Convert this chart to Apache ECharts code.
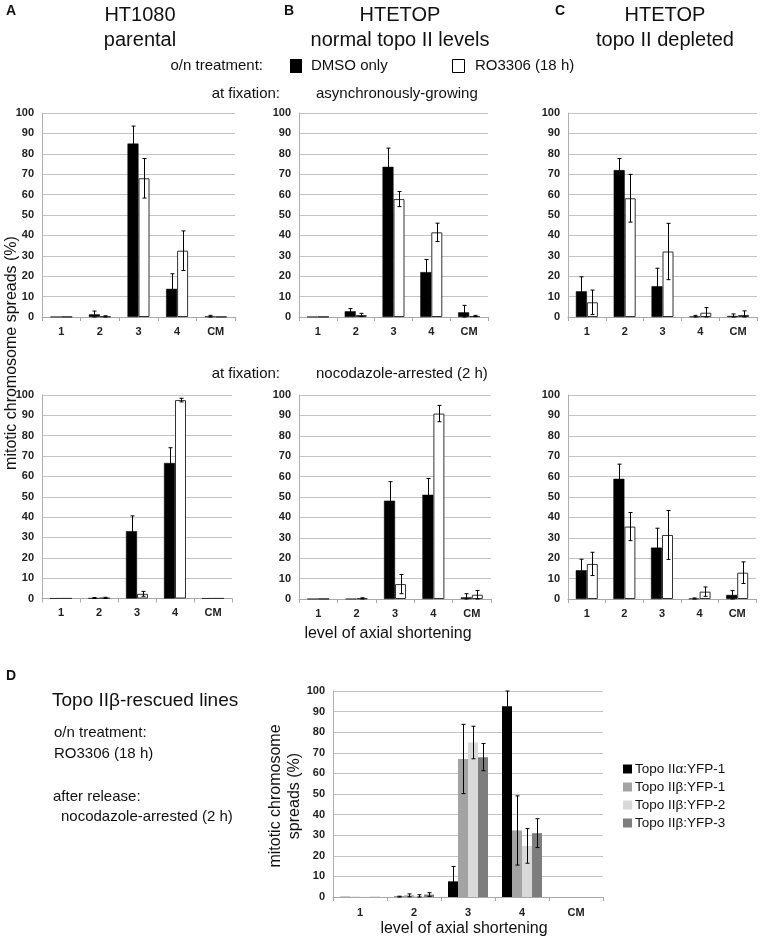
<!DOCTYPE html>
<html><head><meta charset="utf-8">
<script src="https://cdn.jsdelivr.net/npm/echarts@6/dist/echarts.min.js"></script>
<style>html,body{margin:0;padding:0;background:#fff}#c{width:763px;height:940px}</style>
</head><body><div id="c"></div>
<script>
const categories = ['1', '2', '3', '4', 'CM'];

// Panel A (HT1080 parental) - asynchronously-growing
const aTopDmso = [0.1, 1.3, 85.0, 13.8, 0.3];
const aTopDmsoErr = [0, 1.6, 8.6, 7.4, 0.5];
const aTopRo = [0.1, 0.3, 68.0, 32.5, 0.1];
const aTopRoErr = [0, 0.3, 9.7, 9.7, 0];
// Panel B (HTETOP normal) - asynchronously-growing
const bTopDmso = [0.1, 2.8, 73.6, 22.0, 2.3];
const bTopDmsoErr = [0, 1.3, 9.2, 6.2, 3.4];
const bTopRo = [0.1, 1.0, 57.8, 41.5, 0.5];
const bTopRoErr = [0, 0.8, 3.7, 4.5, 0.3];
// Panel C (HTETOP depleted) - asynchronously-growing
const cTopDmso = [12.6, 72.0, 15.1, 0.3, 0.5];
const cTopDmsoErr = [7.1, 5.7, 8.8, 0.5, 1.0];
const cTopRo = [7.2, 58.2, 32.1, 2.1, 1.0];
const cTopRoErr = [6.0, 11.7, 13.8, 2.5, 2.0];
// Nocodazole-arrested (2 h)
const aBotDmso = [0.05, 0.2, 33.1, 66.6, 0.05];
const aBotDmsoErr = [0, 0.3, 7.5, 7.5, 0];
const aBotRo = [0.05, 0.3, 2.3, 97.5, 0.05];
const aBotRoErr = [0, 0.3, 1.2, 0.9, 0];
const bBotDmso = [0.05, 0.05, 48.2, 51.1, 0.8];
const bBotDmsoErr = [0, 0, 9.3, 8.0, 1.8];
const bBotRo = [0.05, 0.3, 7.3, 90.9, 2.1];
const bBotRoErr = [0, 0.3, 4.7, 4.0, 2.1];
const cBotDmso = [14.1, 58.9, 25.2, 0.2, 2.0];
const cBotDmsoErr = [5.4, 7.2, 9.5, 0.3, 2.1];
const cBotRo = [17.2, 35.5, 31.4, 3.6, 12.9];
const cBotRoErr = [5.7, 6.9, 12.0, 2.3, 5.3];
// Panel D (Topo IIβ-rescued lines)
const dNames = ['Topo IIα:YFP-1', 'Topo IIβ:YFP-1', 'Topo IIβ:YFP-2', 'Topo IIβ:YFP-3'];
const dAlpha1 = [0.1, 0.2, 7.6, 92.6, 0];
const dAlpha1Err = [0, 0.2, 7.2, 7.4, 0];
const dBeta1 = [0.1, 0.8, 67.0, 32.3, 0];
const dBeta1Err = [0, 0.7, 16.8, 16.8, 0];
const dBeta2 = [0.1, 0.5, 75.0, 24.8, 0];
const dBeta2Err = [0, 0.6, 7.9, 8.4, 0];
const dBeta3 = [0.1, 1.2, 67.9, 31.0, 0];
const dBeta3Err = [0, 0.9, 6.6, 7.0, 0];

const FONT = 'Liberation Sans, Arial, Helvetica, sans-serif';
const dColors = ['#000000', '#a3a3a3', '#d9d9d9', '#7d7d7d'];

const grids = [
  {left: 42, top: 113, width: 193, height: 204},
  {left: 299, top: 113, width: 189, height: 204},
  {left: 568, top: 113, width: 189, height: 204},
  {left: 42, top: 395, width: 190, height: 203.5},
  {left: 299, top: 395, width: 192, height: 204},
  {left: 568, top: 395, width: 188, height: 204},
  {left: 333, top: 691, width: 270, height: 206}
];

const xAxes = grids.map((g, i) => ({
  type: 'category', gridIndex: i, data: categories,
  axisLine: {lineStyle: {color: '#a8a8a8', width: 1}},
  axisTick: {show: true, length: 4, lineStyle: {color: '#a8a8a8'}},
  axisLabel: {fontFamily: FONT, fontWeight: 'bold', fontSize: 11, color: '#222', margin: i === 6 ? 10 : 9}
}));
const yAxes = grids.map((g, i) => ({
  type: 'value', gridIndex: i, min: 0, max: 100, interval: 10,
  axisLine: {show: true, lineStyle: {color: '#b0b0b0'}},
  axisTick: {show: false},
  splitLine: {lineStyle: {color: '#c4c4c4', width: 1}},
  axisLabel: {fontFamily: FONT, fontWeight: 'bold', fontSize: 11, color: '#222', margin: 8}
}));

const series = [];
function errSeries(idx, vals, errs, offset, barW) {
  series.push({
    type: 'custom', xAxisIndex: idx, yAxisIndex: idx, z: 10,
    data: vals.map((v, k) => [k, v, errs[k]]),
    renderItem: function (params, api) {
      const x = api.value(0), v = api.value(1), e = api.value(2);
      if (!e) return null;
      const c = api.coord([x, v]);
      const t = api.coord([x, v + e]);
      const b = api.coord([x, Math.max(0, v - e)]);
      const cx = Math.round(c[0] + offset * barW) + 0.5;
      const cap = 2;
      const st = {stroke: '#000', lineWidth: 1};
      return {type: 'group', children: [
        {type: 'line', shape: {x1: cx, y1: t[1], x2: cx, y2: b[1]}, style: st},
        {type: 'line', shape: {x1: cx - cap, y1: t[1], x2: cx + cap, y2: t[1]}, style: st},
        {type: 'line', shape: {x1: cx - cap, y1: b[1], x2: cx + cap, y2: b[1]}, style: st}
      ]};
    }
  });
}
function pairPanel(idx, d, de, r, re) {
  const bw = 11;
  series.push({type: 'bar', xAxisIndex: idx, yAxisIndex: idx, data: d, barWidth: bw, barGap: '0%',
    itemStyle: {color: '#000', borderColor: '#000', borderWidth: 0.5}});
  series.push({type: 'bar', xAxisIndex: idx, yAxisIndex: idx, data: r, barWidth: bw, barGap: '0%',
    itemStyle: {color: '#fff', borderColor: '#333', borderWidth: 1}});
  errSeries(idx, d, de, -0.5, bw);
  errSeries(idx, r, re, 0.5, bw);
}
pairPanel(0, aTopDmso, aTopDmsoErr, aTopRo, aTopRoErr);
pairPanel(1, bTopDmso, bTopDmsoErr, bTopRo, bTopRoErr);
pairPanel(2, cTopDmso, cTopDmsoErr, cTopRo, cTopRoErr);
pairPanel(3, aBotDmso, aBotDmsoErr, aBotRo, aBotRoErr);
pairPanel(4, bBotDmso, bBotDmsoErr, bBotRo, bBotRoErr);
pairPanel(5, cBotDmso, cBotDmsoErr, cBotRo, cBotRoErr);

const dVals = [dAlpha1, dBeta1, dBeta2, dBeta3];
const dErrs = [dAlpha1Err, dBeta1Err, dBeta2Err, dBeta3Err];
const dbw = 10;
dVals.forEach((vals, k) => {
  series.push({type: 'bar', name: dNames[k], xAxisIndex: 6, yAxisIndex: 6, data: vals, barWidth: dbw, barGap: '0%',
    itemStyle: {color: dColors[k]}});
});
dVals.forEach((vals, k) => errSeries(6, vals, dErrs[k], k - 1.5, dbw));

function txt(x, y, text, size, opts) {
  return Object.assign({type: 'text', x: x, y: y, style: Object.assign({
    text: text, fontFamily: FONT, fontSize: size, fill: '#111', textVerticalAlign: 'middle'
  }, opts && opts.style || {})}, opts && opts.el || {});
}
const graphics = [
  txt(6, 11, 'A', 14, {style: {fontWeight: 'bold'}}),
  txt(140, 15, 'HT1080', 20, {style: {textAlign: 'center'}}),
  txt(140, 40, 'parental', 20, {style: {textAlign: 'center'}}),
  txt(284, 11, 'B', 14, {style: {fontWeight: 'bold'}}),
  txt(400, 15, 'HTETOP', 20, {style: {textAlign: 'center'}}),
  txt(400, 40, 'normal topo II levels', 20, {style: {textAlign: 'center'}}),
  txt(555, 11, 'C', 14, {style: {fontWeight: 'bold'}}),
  txt(665, 15, 'HTETOP', 20, {style: {textAlign: 'center'}}),
  txt(665, 40, 'topo II depleted', 20, {style: {textAlign: 'center'}}),
  txt(263, 66, 'o/n treatment:', 15, {style: {textAlign: 'right'}}),
  {type: 'rect', shape: {x: 290, y: 59, width: 12, height: 14}, style: {fill: '#000'}},
  txt(311, 66, 'DMSO only', 15),
  {type: 'rect', shape: {x: 452.5, y: 59.5, width: 12, height: 13}, style: {fill: '#fff', stroke: '#000', lineWidth: 1}},
  txt(475, 66, 'RO3306 (18 h)', 15),
  txt(280, 94, 'at fixation:', 15, {style: {textAlign: 'right'}}),
  txt(316, 94, 'asynchronously-growing', 15),
  txt(280, 374, 'at fixation:', 15, {style: {textAlign: 'right'}}),
  txt(316, 374, 'nocodazole-arrested (2 h)', 15),
  txt(12, 353, 'mitotic chromosome spreads (%)', 16, {style: {textAlign: 'center'}, el: {rotation: Math.PI / 2}}),
  txt(388, 634, 'level of axial shortening', 16, {style: {textAlign: 'center'}}),
  txt(6, 676, 'D', 14, {style: {fontWeight: 'bold'}}),
  txt(52, 701, 'Topo IIβ-rescued lines', 19),
  txt(54, 733, 'o/n treatment:', 15),
  txt(54, 754, 'RO3306 (18 h)', 15),
  txt(53, 797, 'after release:', 15),
  txt(61, 817, 'nocodazole-arrested (2 h)', 15),
  txt(276, 796, 'mitotic chromosome', 16, {style: {textAlign: 'center'}, el: {rotation: Math.PI / 2}}),
  txt(295, 796, 'spreads (%)', 16, {style: {textAlign: 'center'}, el: {rotation: Math.PI / 2}}),
  txt(464, 929, 'level of axial shortening', 16, {style: {textAlign: 'center'}})
];

const chart = echarts.init(document.getElementById('c'), null, {renderer: 'canvas'});
chart.setOption({
  animation: false,
  backgroundColor: '#fff',
  grid: grids,
  xAxis: xAxes,
  yAxis: yAxes,
  legend: {
    data: dNames, orient: 'vertical', left: 618, top: 757, itemWidth: 9, itemHeight: 9, itemGap: 4,
    icon: 'rect', textStyle: {fontFamily: FONT, fontSize: 13.5, color: '#111', padding: [0, 0, 0, -2]}
  },
  series: series,
  graphic: graphics
});
</script></body></html>
